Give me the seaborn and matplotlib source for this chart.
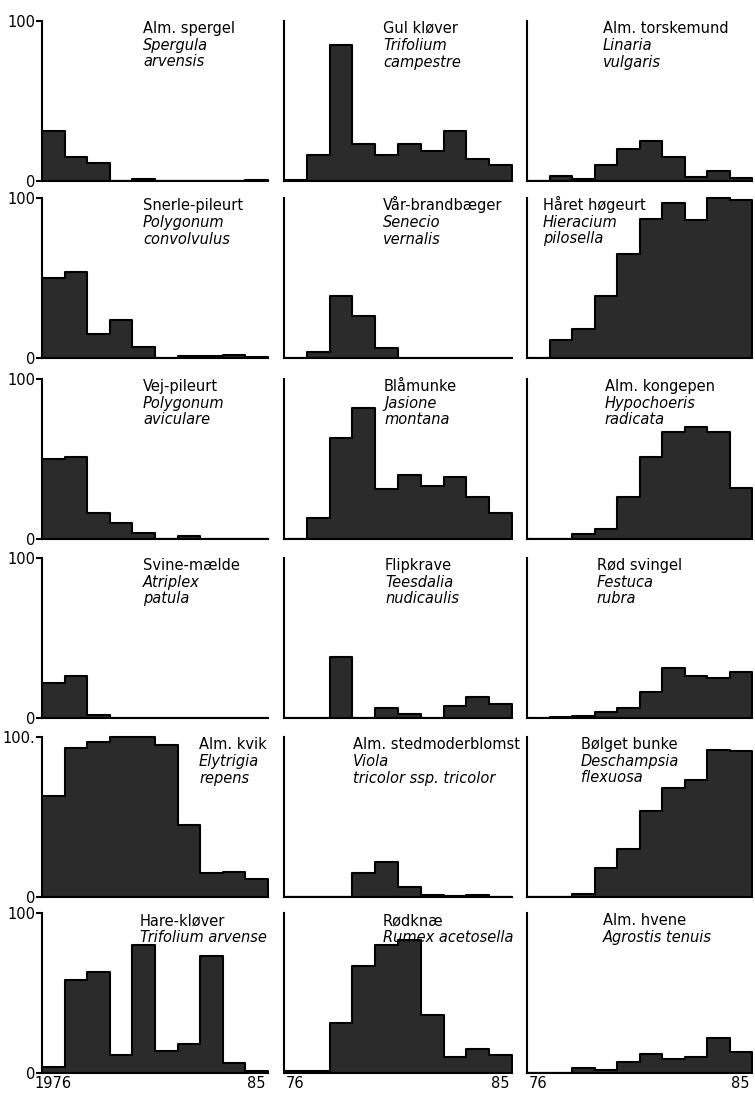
import matplotlib
matplotlib.use("Agg")
import matplotlib.pyplot as plt
import pandas as pd
import seaborn as sns

# Survey years (one bar per year)
years = list(range(1976, 1986))

# Frequency (%) per year for each species
spergula_arvensis = [31, 15, 11, 0, 1, 0, 0, 0, 0, 0.5]
trifolium_campestre = [0.5, 16, 85, 23, 16, 23, 19, 31, 14, 10]
linaria_vulgaris = [0, 3, 1.5, 10, 20, 25, 15, 2.5, 6, 2]
polygonum_convolvulus = [50, 54, 15, 24, 7, 0, 1, 1, 2, 0.5]
senecio_vernalis = [0, 4, 39, 26, 6, 0, 0, 0, 0, 0]
hieracium_pilosella = [0, 11, 18, 39, 65, 87, 97, 86, 100, 99]
polygonum_aviculare = [50, 51.5, 16, 10, 4, 0, 2, 0, 0, 0]
jasione_montana = [0, 13, 63, 82, 31, 40, 33, 39, 26, 16]
hypochoeris_radicata = [0, 0, 3, 6, 26, 51, 67, 70, 67, 32]
atriplex_patula = [22, 26, 2, 0, 0, 0, 0, 0, 0, 0]
teesdalia_nudicaulis = [0, 0, 38, 0, 6, 2.5, 0, 7.5, 13, 9]
festuca_rubra = [0, 0.5, 1.5, 4, 6.5, 16, 31, 26, 25, 29]
elytrigia_repens = [63, 93, 97, 100, 100, 95, 45, 15, 15.5, 11]
viola_tricolor = [0, 0, 0, 15, 22, 6, 1, 0.5, 1, 0]
deschampsia_flexuosa = [0, 0, 2, 18, 30, 54, 68, 73, 92, 91]
trifolium_arvense = [3.5, 58, 63, 11, 80, 14, 18, 73, 6, 1]
rumex_acetosella = [1, 1, 31, 67, 80, 83, 36, 10, 15, 11]
agrostis_tenuis = [0, 0, 3, 2, 7, 12, 9, 10, 22, 13]

series = [
    spergula_arvensis, trifolium_campestre, linaria_vulgaris,
    polygonum_convolvulus, senecio_vernalis, hieracium_pilosella,
    polygonum_aviculare, jasione_montana, hypochoeris_radicata,
    atriplex_patula, teesdalia_nudicaulis, festuca_rubra,
    elytrigia_repens, viola_tricolor, deschampsia_flexuosa,
    trifolium_arvense, rumex_acetosella, agrostis_tenuis,
]

common_names = [
    "Alm. spergel", "Gul kløver", "Alm. torskemund",
    "Snerle-pileurt", "Vår-brandbæger", "Håret høgeurt",
    "Vej-pileurt", "Blåmunke", "Alm. kongepen",
    "Svine-mælde", "Flipkrave", "Rød svingel",
    "Alm. kvik", "Alm. stedmoderblomst", "Bølget bunke",
    "Hare-kløver", "Rødknæ", "Alm. hvene",
]

latin_names = [
    ["Spergula", "arvensis"], ["Trifolium", "campestre"], ["Linaria", "vulgaris"],
    ["Polygonum", "convolvulus"], ["Senecio", "vernalis"], ["Hieracium", "pilosella"],
    ["Polygonum", "aviculare"], ["Jasione", "montana"], ["Hypochoeris", "radicata"],
    ["Atriplex", "patula"], ["Teesdalia", "nudicaulis"], ["Festuca", "rubra"],
    ["Elytrigia", "repens"], ["Viola", "tricolor ssp. tricolor"], ["Deschampsia", "flexuosa"],
    ["Trifolium arvense"], ["Rumex acetosella"], ["Agrostis tenuis"],
]

y_tick_labels = ["0", "100"]
first_year_labels = ["1976", "76", "76"]
last_year_label = "85"

# ---- layout (pixels on a 755 x 1093 canvas) ----
W, H = 755, 1093
col_left = [42, 284, 527]
col_width = [226, 228, 225]
row_zero = [181, 358, 539, 718, 897, 1073]
px_per_unit = 1.6
label_x = [
    0.447, 0.434, 0.336,
    0.447, 0.434, 0.071,
    0.447, 0.439, 0.345,
    0.447, 0.443, 0.310,
    0.695, 0.303, 0.239,
    0.434, 0.434, 0.336,
]

sns.set_theme(style="white")
plt.rcParams["font.family"] = ["DejaVu Sans"]

fig = plt.figure(figsize=(W / 100, H / 100), dpi=100)
fill_col = "#2b2b2b"
line_w = 1.5
fs = 10.5

for idx, values in enumerate(series):
    r, c = divmod(idx, 3)
    ymax = 101
    ax = fig.add_axes([
        col_left[c] / W,
        1 - row_zero[r] / H,
        col_width[c] / W,
        ymax * px_per_unit / H,
    ])
    df = pd.DataFrame({"year": years, "share": values})
    sns.histplot(
        data=df, x="year", weights="share", discrete=True,
        element="step", fill=True, color=fill_col, edgecolor="black",
        linewidth=line_w, alpha=1, ax=ax,
    )
    ax.set_xlim(1975.5, 1985.5)
    ax.set_ylim(0, ymax)
    ax.set_xlabel("")
    ax.set_ylabel("")
    for side in ["top", "right"]:
        ax.spines[side].set_visible(False)
    for side in ["left", "bottom"]:
        ax.spines[side].set_color("black")
        ax.spines[side].set_linewidth(line_w)
    ax.spines["left"].set_bounds(0, 100)

    if c == 0:
        ax.set_yticks([0, 100])
        labels = list(y_tick_labels)
        if r == 4:
            labels[1] = labels[1] + "."
        ax.set_yticklabels(labels, fontsize=10.5)
        ax.tick_params(axis="y", left=True, length=4, width=line_w,
                       color="black", pad=1, labelcolor="black")
    else:
        ax.set_yticks([])

    if r == 5:
        ax.set_xticks([1976, 1985])
        ax.set_xticklabels([first_year_labels[c], last_year_label], fontsize=10.5)
        ax.tick_params(axis="x", bottom=False, length=0, pad=2, labelcolor="black")
    else:
        ax.set_xticks([])

    tr = ax.get_yaxis_transform()
    ax.text(label_x[idx], 100 - 12 / px_per_unit, common_names[idx],
            transform=tr, fontsize=fs, va="baseline", ha="left", color="black")
    for k, line in enumerate(latin_names[idx]):
        ax.text(label_x[idx], 100 - (29 + 16.5 * k) / px_per_unit, line,
                transform=tr, fontsize=fs, va="baseline", ha="left",
                style="italic", color="black")

fig.savefig("out.png", dpi=100, facecolor="white")
